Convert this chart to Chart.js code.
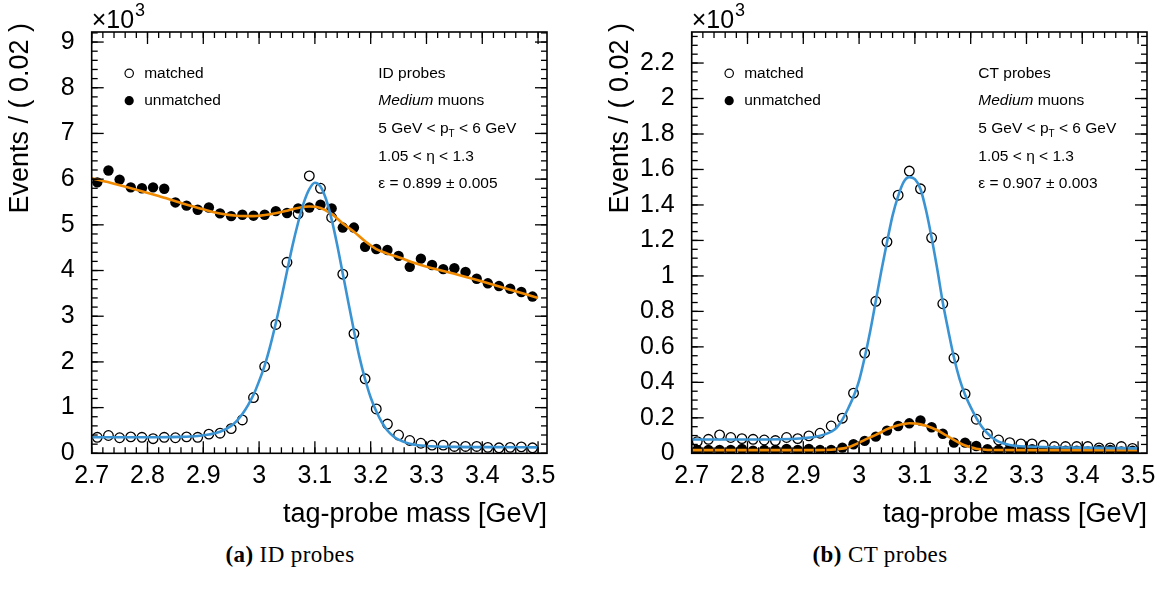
<!DOCTYPE html>
<html>
<head>
<meta charset="utf-8">
<script src="https://cdn.jsdelivr.net/npm/chart.js@4.4.1/dist/chart.umd.min.js"></script>
<style>
  body { margin: 0; background: #fff; width: 1155px; height: 590px; position: relative; overflow: hidden; }
  .panel { position: absolute; top: 0; width: 555px; height: 540px; }
  .caption { position: absolute; top: 542px; width: 300px; text-align: center; line-height: 26px;
             font-family: "Liberation Serif", "DejaVu Serif", serif; font-size: 23px;
             letter-spacing: 0.4px; color: #000; }
  .caption b { font-weight: bold; }
</style>
</head>
<body>
<div class="panel" style="left:0px"><canvas id="idChart"></canvas></div>
<div class="panel" style="left:600px"><canvas id="ctChart"></canvas></div>
<div class="caption" style="left:140px"><b>(a)</b> ID probes</div>
<div class="caption" style="left:730px"><b>(b)</b> CT probes</div>
<script>
// bin centres of the tag-probe mass histogram (GeV)
const massBins = [2.71, 2.73, 2.75, 2.77, 2.79, 2.81, 2.83, 2.85, 2.87, 2.89,
                  2.91, 2.93, 2.95, 2.97, 2.99, 3.01, 3.03, 3.05, 3.07, 3.09,
                  3.11, 3.13, 3.15, 3.17, 3.19, 3.21, 3.23, 3.25, 3.27, 3.29,
                  3.31, 3.33, 3.35, 3.37, 3.39, 3.41, 3.43, 3.45, 3.47, 3.49];

// ID probes, events x10^3
const idMatched = [0.35, 0.39, 0.34, 0.36, 0.35, 0.32, 0.35, 0.34, 0.36, 0.35,
                   0.42, 0.44, 0.54, 0.73, 1.22, 1.90, 2.82, 4.18, 5.24, 6.07,
                   5.80, 5.16, 3.92, 2.62, 1.63, 0.97, 0.64, 0.40, 0.28, 0.22,
                   0.18, 0.18, 0.15, 0.15, 0.15, 0.13, 0.12, 0.13, 0.14, 0.12];
const idUnmatched = [5.93, 6.19, 5.99, 5.82, 5.80, 5.82, 5.79, 5.49, 5.42, 5.33,
                     5.38, 5.25, 5.19, 5.22, 5.20, 5.22, 5.30, 5.26, 5.36, 5.38,
                     5.44, 5.36, 4.94, 4.94, 4.52, 4.47, 4.45, 4.32, 4.08, 4.26,
                     4.12, 4.03, 4.05, 3.97, 3.82, 3.72, 3.66, 3.60, 3.53, 3.43];

// CT probes, events x10^3
const ctMatched = [0.066, 0.079, 0.104, 0.089, 0.083, 0.079, 0.075, 0.072, 0.089, 0.083,
                   0.098, 0.113, 0.154, 0.198, 0.339, 0.565, 0.857, 1.192, 1.455, 1.591,
                   1.491, 1.215, 0.843, 0.537, 0.335, 0.192, 0.109, 0.075, 0.060, 0.053,
                   0.053, 0.045, 0.038, 0.038, 0.038, 0.038, 0.030, 0.030, 0.038, 0.028];
const ctUnmatched = [0.019, 0.019, 0.019, 0.019, 0.024, 0.015, 0.019, 0.019, 0.024, 0.019,
                     0.024, 0.019, 0.019, 0.032, 0.051, 0.070, 0.094, 0.128, 0.154, 0.169,
                     0.185, 0.147, 0.110, 0.060, 0.060, 0.041, 0.023, 0.019, 0.023, 0.011,
                     0.023, 0.011, 0.015, 0.015, 0.015, 0.011, 0.019, 0.019, 0.011, 0.015];

// fit curves
const idMatchedFitX = [2.70, 2.76, 2.82, 2.86, 2.89, 2.91, 2.93, 2.95, 2.96, 2.97, 2.98, 2.99, 3.00,
                       3.01, 3.02, 3.03, 3.04, 3.05, 3.06, 3.07, 3.08, 3.09, 3.10, 3.11, 3.12, 3.13,
                       3.14, 3.15, 3.16, 3.17, 3.18, 3.19, 3.20, 3.21, 3.22, 3.23, 3.24, 3.25, 3.27,
                       3.30, 3.35, 3.42, 3.50];
const idMatchedFitY = [0.35, 0.35, 0.35, 0.36, 0.38, 0.41, 0.47, 0.60, 0.71, 0.86, 1.05, 1.28, 1.58,
                       1.92, 2.35, 2.85, 3.40, 3.98, 4.55, 5.05, 5.48, 5.78, 5.92, 5.84, 5.56, 5.12,
                       4.56, 3.93, 3.30, 2.68, 2.10, 1.62, 1.22, 0.92, 0.68, 0.50, 0.38, 0.30, 0.21,
                       0.16, 0.14, 0.135, 0.13];
const idUnmatchedFitX = [2.70, 2.74, 2.78, 2.82, 2.86, 2.90, 2.93, 2.96, 2.99, 3.02, 3.05, 3.07, 3.09,
                         3.11, 3.13, 3.15, 3.17, 3.19, 3.21, 3.23, 3.25, 3.28, 3.31, 3.35, 3.40, 3.45, 3.50];
const idUnmatchedFitY = [6.02, 5.90, 5.77, 5.63, 5.48, 5.34, 5.25, 5.20, 5.19, 5.23, 5.31, 5.37, 5.40,
                         5.37, 5.24, 5.03, 4.85, 4.64, 4.47, 4.37, 4.29, 4.16, 4.05, 3.93, 3.76, 3.58, 3.40];
const ctMatchedFitX = [2.70, 2.80, 2.86, 2.90, 2.92, 2.94, 2.95, 2.96, 2.97, 2.98, 2.99, 3.00, 3.01,
                       3.02, 3.03, 3.04, 3.05, 3.06, 3.07, 3.08, 3.09, 3.10, 3.11, 3.12, 3.13, 3.14,
                       3.15, 3.16, 3.17, 3.18, 3.19, 3.20, 3.21, 3.22, 3.23, 3.24, 3.25, 3.27, 3.30,
                       3.40, 3.50];
const ctMatchedFitY = [0.078, 0.078, 0.079, 0.085, 0.092, 0.108, 0.122, 0.145, 0.19, 0.25, 0.32, 0.41, 0.54,
                       0.69, 0.86, 1.03, 1.19, 1.34, 1.45, 1.53, 1.557, 1.545, 1.49, 1.37, 1.215, 1.04,
                       0.85, 0.69, 0.54, 0.42, 0.33, 0.26, 0.20, 0.15, 0.113, 0.085, 0.066, 0.047, 0.038,
                       0.032, 0.028];
const ctUnmatchedFitX = [2.70, 2.90, 2.94, 2.96, 2.98, 2.99, 3.00, 3.01, 3.02, 3.03, 3.04, 3.05, 3.06,
                         3.07, 3.08, 3.09, 3.10, 3.11, 3.12, 3.13, 3.14, 3.15, 3.16, 3.17, 3.18, 3.19,
                         3.20, 3.21, 3.22, 3.23, 3.30, 3.50];
const ctUnmatchedFitY = [0.018, 0.018, 0.019, 0.023, 0.033, 0.045, 0.060, 0.076, 0.090, 0.104, 0.120, 0.136, 0.148,
                         0.158, 0.165, 0.169, 0.168, 0.163, 0.155, 0.144, 0.130, 0.113, 0.094, 0.075, 0.058, 0.044,
                         0.034, 0.026, 0.022, 0.019, 0.018, 0.018];

// axis ticks
const xTicks = [2.7, 2.8, 2.9, 3.0, 3.1, 3.2, 3.3, 3.4, 3.5];
const xTickLabels = ['2.7', '2.8', '2.9', '3', '3.1', '3.2', '3.3', '3.4', '3.5'];
const idYTicks = [0, 1, 2, 3, 4, 5, 6, 7, 8, 9];
const idYTickLabels = ['0', '1', '2', '3', '4', '5', '6', '7', '8', '9'];
const ctYTicks = [0, 0.2, 0.4, 0.6, 0.8, 1.0, 1.2, 1.4, 1.6, 1.8, 2.0, 2.2];
const ctYTickLabels = ['0', '0.2', '0.4', '0.6', '0.8', '1', '1.2', '1.4', '1.6', '1.8', '2', '2.2'];

const FONT = '"Liberation Sans", Arial, Helvetica, sans-serif';
const BLUE = '#3a94d4';
const ORANGE = '#f08a00';

function toPoints(xs, ys) {
    return xs.map((x, i) => ({ x: x, y: ys[i] }));
}

function steps(from, to, step) {
    const out = [];
    for (let i = 0; from + i * step <= to + 1e-9; i++) out.push(from + i * step);
    return out;
}

// ROOT-like frame: inward ticks on all sides, legend and labels
const rootFrame = {
    id: 'rootFrame',
    afterDraw(chart, args, opts) {
        const { ctx, chartArea: a, scales } = chart;
        const xs = scales.x, ys = scales.y;
        ctx.save();
        ctx.strokeStyle = '#000';
        ctx.lineWidth = 1.3;
        const seg = (x1, y1, x2, y2) => { ctx.beginPath(); ctx.moveTo(x1, y1); ctx.lineTo(x2, y2); ctx.stroke(); };

        steps(2.7, 3.5, 0.02).forEach(v => {
            const p = xs.getPixelForValue(v);
            seg(p, a.bottom, p, a.bottom - 6);
            seg(p, a.top, p, a.top + 6);
        });
        xTicks.forEach(v => {
            const p = xs.getPixelForValue(v);
            seg(p, a.bottom, p, a.bottom - 12);
            seg(p, a.top, p, a.top + 12);
        });
        steps(0, opts.yMax, opts.yMinor).forEach(v => {
            const p = ys.getPixelForValue(v);
            seg(a.left, p, a.left + 6, p);
            seg(a.right, p, a.right - 6, p);
        });
        opts.yTicks.forEach(v => {
            const p = ys.getPixelForValue(v);
            seg(a.left, p, a.left + 12, p);
            seg(a.right, p, a.right - 12, p);
        });
        ctx.lineWidth = 1.6;
        ctx.strokeRect(a.left, a.top, a.right - a.left, a.bottom - a.top);

        ctx.fillStyle = '#000';
        // exponent
        ctx.textAlign = 'left';
        ctx.textBaseline = 'alphabetic';
        ctx.font = '25px ' + FONT;
        ctx.fillText('×10', a.left, 28);
        const w10 = ctx.measureText('×10').width;
        ctx.font = '18px ' + FONT;
        ctx.fillText('3', a.left + w10 + 1, 16);

        // axis titles
        ctx.font = '27px ' + FONT;
        ctx.textAlign = 'right';
        ctx.textBaseline = 'middle';
        ctx.fillText('tag-probe mass [GeV]', a.right, 515);
        ctx.save();
        ctx.translate(21, 23);
        ctx.rotate(-Math.PI / 2);
        ctx.fillText('Events / ( 0.02 )', 0, 0);
        ctx.restore();

        // legend
        const lx = a.left + 37.5;
        ctx.lineWidth = 1.2;
        ctx.beginPath(); ctx.arc(lx, 73.3, 4.2, 0, Math.PI * 2); ctx.stroke();
        ctx.beginPath(); ctx.arc(lx, 100.7, 4.6, 0, Math.PI * 2); ctx.fill();
        ctx.font = '15.5px ' + FONT;
        ctx.textAlign = 'left';
        ctx.fillText('matched', a.left + 52.5, 73.3);
        ctx.fillText('unmatched', a.left + 52.5, 100.7);

        // info block
        const ix = a.left + 286.6;
        ctx.fillText(opts.probes, ix, 73.3);
        ctx.font = 'italic 15.5px ' + FONT;
        ctx.fillText('Medium', ix, 100.7);
        let w = ctx.measureText('Medium').width;
        ctx.font = '15.5px ' + FONT;
        ctx.fillText(' muons', ix + w, 100.7);
        ctx.fillText('5 GeV < p', ix, 129);
        w = ctx.measureText('5 GeV < p').width;
        ctx.font = '10px ' + FONT;
        ctx.fillText('T', ix + w, 134);
        const wt = ctx.measureText('T').width;
        ctx.font = '15.5px ' + FONT;
        ctx.fillText(' < 6 GeV', ix + w + wt, 129);
        ctx.fillText('1.05 < η < 1.3', ix, 156.7);
        ctx.fillText(opts.eff, ix, 184);
        ctx.restore();
    }
};

function makePanel(canvasId, matched, unmatched, mFitX, mFitY, uFitX, uFitY,
                   yMax, yTicks, yTickLabels, yMinor, probes, eff) {
    const canvas = document.getElementById(canvasId);
    canvas.width = 555;
    canvas.height = 540;
    return new Chart(canvas.getContext('2d'), {
        type: 'scatter',
        data: {
            datasets: [{
                data: toPoints(mFitX, mFitY),
                showLine: true, borderColor: BLUE, borderWidth: 2.6,
                pointRadius: 0, cubicInterpolationMode: 'monotone', order: 0
            }, {
                data: toPoints(uFitX, uFitY),
                showLine: true, borderColor: ORANGE, borderWidth: 2.6,
                pointRadius: 0, cubicInterpolationMode: 'monotone', order: 1
            }, {
                data: toPoints(massBins, matched),
                pointRadius: 4.8, pointBorderWidth: 1.3,
                pointBorderColor: '#000', pointBackgroundColor: 'rgba(0,0,0,0)', order: 2
            }, {
                data: toPoints(massBins, unmatched),
                pointRadius: 5.2, pointBorderWidth: 0,
                pointBackgroundColor: '#000', pointBorderColor: '#000', order: 3
            }]
        },
        options: {
            responsive: false,
            animation: false,
            events: [],
            layout: { padding: { left: 0, right: 8, top: 32, bottom: 0 } },
            plugins: {
                legend: { display: false },
                tooltip: { enabled: false },
                rootFrame: { yMax: yMax, yTicks: yTicks, yMinor: yMinor, probes: probes, eff: eff }
            },
            scales: {
                x: {
                    type: 'linear', min: 2.7, max: 3.516,
                    grid: { display: false }, border: { display: false },
                    afterBuildTicks: s => { s.ticks = xTicks.map(v => ({ value: v })); },
                    afterFit: s => { s.height = 86.7; s.paddingLeft = 0; s.paddingRight = 0; },
                    ticks: {
                        autoSkip: false, maxRotation: 0, padding: 0, color: '#000',
                        font: { family: FONT, size: 25 },
                        callback: (v, i) => xTickLabels[i]
                    }
                },
                y: {
                    type: 'linear', min: 0, max: yMax,
                    grid: { display: false }, border: { display: false },
                    afterBuildTicks: s => { s.ticks = yTicks.map(v => ({ value: v })); },
                    afterFit: s => { s.width = 91.7; s.paddingTop = 0; s.paddingBottom = 0; },
                    ticks: {
                        autoSkip: false, padding: 9, color: '#000',
                        font: { family: FONT, size: 25 },
                        callback: (v, i) => yTickLabels[i]
                    }
                }
            }
        },
        plugins: [rootFrame]
    });
}

makePanel('idChart', idMatched, idUnmatched, idMatchedFitX, idMatchedFitY,
          idUnmatchedFitX, idUnmatchedFitY, 9.22, idYTicks, idYTickLabels, 0.2,
          'ID probes', 'ε = 0.899 ± 0.005');
makePanel('ctChart', ctMatched, ctUnmatched, ctMatchedFitX, ctMatchedFitY,
          ctUnmatchedFitX, ctUnmatchedFitY, 2.375, ctYTicks, ctYTickLabels, 0.05,
          'CT probes', 'ε = 0.907 ± 0.003');
</script>
</body>
</html>
